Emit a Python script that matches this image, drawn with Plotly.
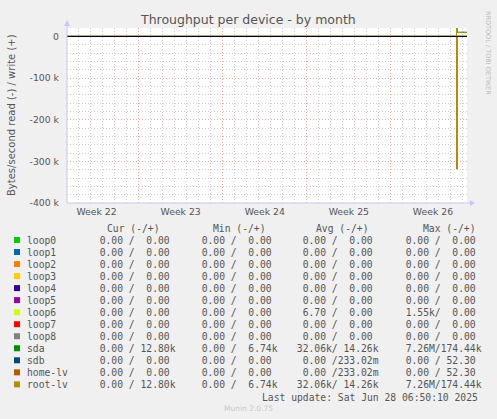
import pandas as pd
import plotly.graph_objects as go

# Munin diskstats throughput, monthly view (2 h bins)
names = ["loop0", "loop1", "loop2", "loop3", "loop4", "loop5", "loop6",
         "loop7", "loop8", "sda", "sdb", "home-lv", "root-lv"]
colors = ["#00CC00", "#0066B3", "#FF8000", "#FFCC00", "#330099", "#990099",
          "#CCFF00", "#FF0000", "#808080", "#008F00", "#00487D", "#B35A00",
          "#B38F00"]

times = ["2025-05-27 00:00", "2025-06-28 11:00", "2025-06-28 13:00",
         "2025-06-28 15:00", "2025-06-29 08:00"]
idle = [0, 0, 0, 0, 0]
sda_read = [0, 318000, 0, 0, 0]
sda_write = [0, 19000, 10000, 10000, 10000]
rootlv_read = [0, 318000, 0, 0, 0]
rootlv_write = [0, 19000, 10000, 10000, 10000]

week_labels = ["Week 22", "Week 23", "Week 24", "Week 25", "Week 26"]
week_mid = ["2025-05-29 12:00", "2025-06-05 12:00", "2025-06-12 12:00",
            "2025-06-19 12:00", "2025-06-26 12:00"]
y_ticks = [0, -100000, -200000, -300000, -400000]
y_text = ["0", "-100 k", "-200 k", "-300 k", "-400 k"]

cur_col = ["  0.00 /  0.00 "] * 9 + ["  0.00 / 12.80k", "  0.00 /  0.00 ",
                                     "  0.00 /  0.00 ", "  0.00 / 12.80k"]
min_col = ["  0.00 /  0.00 "] * 9 + ["  0.00 /  6.74k", "  0.00 /  0.00 ",
                                     "  0.00 /  0.00 ", "  0.00 /  6.74k"]
avg_col = (["  0.00 /  0.00 "] * 6 + ["  6.70 /  0.00 "] + ["  0.00 /  0.00 "] * 2
           + [" 32.06k/ 14.26k", "  0.00 /233.02m", "  0.00 /233.02m", " 32.06k/ 14.26k"])
max_col = (["  0.00 /  0.00 "] * 6 + ["  1.55k/  0.00 "] + ["  0.00 /  0.00 "] * 2
           + ["  7.26M/174.44k", "  0.00 / 52.30 ", "  0.00 / 52.30 ", "  7.26M/174.44k"])
last_update = "Last update: Sat Jun 28 06:50:10 2025"

W, H = 497, 419
L, R, T, B = 67, 30, 28, 216


def px(x):
    return (x - L) / (W - L - R)


def py(y):
    return (H - B - y) / (H - T - B)


def nb(s):
    return s.replace(" ", "\u00a0")


series = {}
for n in names:
    series[n] = (idle, idle)
series["sda"] = (sda_read, sda_write)
series["root-lv"] = (rootlv_read, rootlv_write)

x = pd.to_datetime(times)
fig = go.Figure()
for n, c in zip(names, colors):
    rd, wr = series[n]
    fig.add_trace(go.Scatter(x=x, y=[-v for v in rd], mode="lines", line=dict(color=c, width=1, shape="hv"),
                             showlegend=False, hoverinfo="skip"))
    fig.add_trace(go.Scatter(x=x, y=wr, mode="lines", line=dict(color=c, width=1, shape="hv"),
                             showlegend=False, hoverinfo="skip"))
# black zero rule, on the week-label axis (drawn on top)
fig.add_trace(go.Scatter(x=[x[0], x[-1]], y=[0, 0], mode="lines", xaxis="x2",
                         line=dict(color="black", width=1), showlegend=False, hoverinfo="skip"))

xr = ["2025-05-27 01:00", "2025-06-29 08:00"]
major = "#EDA8A8"
minor = "#CDCDCD"
dots = "1px,2px"
fig.update_layout(
    width=W, height=H, margin=dict(l=L, r=R, t=T, b=B, autoexpand=False),
    paper_bgcolor="#F0F0F0", plot_bgcolor="#FFFFFF",
    font=dict(family="DejaVu Sans", color="#555555", size=9.3),
    xaxis=dict(type="date", range=xr, tick0="2025-06-02", dtick=7 * 86400000,
               showticklabels=False, ticks="", showgrid=True, gridcolor=major,
               griddash=dots, gridwidth=1, zeroline=False, showline=False,
               minor=dict(dtick=86400000, showgrid=True, gridcolor=minor,
                          griddash=dots, gridwidth=1, ticks="")),
    xaxis2=dict(type="date", range=xr, overlaying="x", anchor="y", side="bottom",
                tickmode="array", tickvals=week_mid, ticktext=week_labels,
                showgrid=False, zeroline=False, showline=False, ticks="",
                ticklabelstandoff=2, tickfont=dict(size=9.3, color="#555555")),
    yaxis=dict(range=[-400000, 20360], tickmode="array", tickvals=y_ticks, ticktext=y_text,
               showgrid=True, gridcolor=major, griddash=dots, zeroline=False,
               ticks="", ticklabelstandoff=7, showline=False,
               tickfont=dict(size=9.3, color="#555555"),
               minor=dict(dtick=20000, tick0=0, showgrid=True, gridcolor=minor,
                          griddash=dots, ticks="")),
)

axc = "#C8C8F0"
shapes = [
    dict(type="line", xref="paper", yref="paper", x0=0, x1=px(471), y0=0, y1=0,
         line=dict(color=axc, width=1)),
    dict(type="line", xref="paper", yref="paper", x0=0, x1=0, y0=0, y1=py(22),
         line=dict(color=axc, width=1)),
    dict(type="path", xref="paper", yref="paper",
         path=f"M {px(470)},{py(200)} L {px(475)},{py(203)} L {px(470)},{py(206)} Z",
         fillcolor=axc, line=dict(width=0)),
    dict(type="path", xref="paper", yref="paper",
         path=f"M {px(64)},{py(26)} L {px(67)},{py(20)} L {px(70)},{py(26)} Z",
         fillcolor=axc, line=dict(width=0)),
]

mono = dict(family="DejaVu Sans Mono", size=9.7, color="#555555")


def label(text, xx, yy, font, xanchor="left", angle=0):
    return dict(text=text, x=px(xx), y=py(yy), xref="paper", yref="paper",
                xanchor=xanchor, yanchor="middle", showarrow=False, textangle=angle,
                font=font, borderpad=0)


ann = [
    label("Throughput per device - by month", 248, 19, dict(size=12.5, color="#555555"), "center"),
    label("Bytes/second read (-) / write (+)", 11, 115, dict(size=10, color="#555555"), "center", -90),
    label("RRDTOOL / TOBI OETIKER", 488, 53, dict(size=6.5, color="#BBBBBB"), "center", 90),
    label("Munin 2.0.75", 248, 408, dict(size=7.5, color="#C8C8C8"), "center"),
    label(nb(last_update), 261, 397, mono),
]
for hx, h in zip([106, 212, 315, 422], ["Cur (-/+)", "Min (-/+)", "Avg (-/+)", "Max (-/+)"]):
    ann.append(label(nb(h), hx, 228, mono))

for i, (n, c) in enumerate(zip(names, colors)):
    yc = 240 + 12.03 * i
    shapes.append(dict(type="rect", xref="paper", yref="paper", x0=px(14), x1=px(20),
                       y0=py(yc - 3), y1=py(yc + 3), fillcolor=c, line=dict(width=0)))
    ann.append(label(nb(n), 26, yc, mono))
    for cx, col in zip([87, 189, 290, 393], [cur_col, min_col, avg_col, max_col]):
        ann.append(label(nb(col[i]), cx, yc, mono))

fig.update_layout(shapes=shapes, annotations=ann)
# page default body margin would push the 497x419 image off by 8px
fig.write_html("out.html", config={"displayModeBar": False},
               post_script="document.body.style.margin='0';document.body.style.background='#F0F0F0';")
